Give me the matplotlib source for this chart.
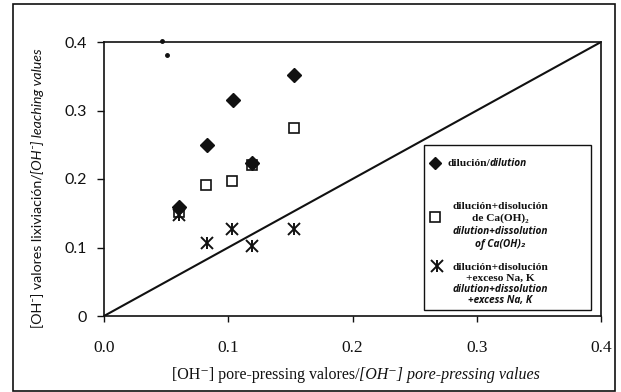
import matplotlib
matplotlib.use("Agg")
import matplotlib.pyplot as plt
from matplotlib.patches import Rectangle
from matplotlib.lines import Line2D
from matplotlib.text import Annotation
from matplotlib.transforms import Bbox

# ---------------- data ----------------
x_ticks = [0.0, 0.1, 0.2, 0.3, 0.4]
x_tick_labels = ["0.0", "0.1", "0.2", "0.3", "0.4"]
y_ticks = [0.0, 0.1, 0.2, 0.3, 0.4]
y_tick_labels = ["0", "0.1", "0.2", "0.3", "0.4"]

# dilución / dilution
x_dil = [0.060, 0.083, 0.104, 0.119, 0.153]
y_dil = [0.159, 0.250, 0.315, 0.224, 0.352]
# dilución + disolución de Ca(OH)2
x_ca = [0.060, 0.082, 0.103, 0.119, 0.153]
y_ca = [0.152, 0.191, 0.197, 0.220, 0.274]
# dilución + disolución + exceso Na, K
x_nak = [0.060, 0.083, 0.103, 0.119, 0.153]
y_nak = [0.147, 0.107, 0.127, 0.102, 0.127]
# 1:1 reference line
x_line = [0.0, 0.4]
y_line = [0.0, 0.4]
# stray scan specks near the top
x_speck = [0.047, 0.051]
y_speck = [0.401, 0.381]

# ---------------- figure ----------------
W, H = 621, 392
fig = plt.figure(figsize=(W / 100, H / 100), dpi=100)
fig.patch.set_facecolor("white")

def fx(px):
    return px / W

def fy(py):
    return 1 - py / H

ax = fig.add_axes([fx(104), fy(316), fx(601) - fx(104), fy(42) - fy(316)])
ax.set_xlim(0, 0.4)
ax.set_ylim(0, 0.4)

ink = "#111111"
ax.plot(x_line, y_line, color=ink, lw=1.5, zorder=2)
ax.plot(x_ca, y_ca, ls="none", marker="s", ms=6.5, mfc="none", mec=ink, mew=1.2, zorder=3)
ax.plot(x_dil, y_dil, ls="none", marker="D", ms=7, mfc=ink, mec=ink, zorder=4)
ax.plot(x_nak, y_nak, ls="none", marker="x", ms=8, mec=ink, mew=1.4, zorder=5)
ax.plot(x_nak, y_nak, ls="none", marker="|", ms=9, mec=ink, mew=1.4, zorder=5)
ax.plot(x_speck, y_speck, ls="none", marker="o", ms=2.5, mfc=ink, mec=ink, clip_on=False, zorder=5)

for s in ax.spines.values():
    s.set_linewidth(1.2)
    s.set_color(ink)

ax.set_xticks(x_ticks)
ax.set_xticklabels(x_tick_labels, family="Liberation Serif", fontsize=12.5)
ax.set_yticks(y_ticks)
ax.set_yticklabels(y_tick_labels, family="Lato", fontsize=11.5)
ax.tick_params(axis="x", direction="out", length=4, width=1, pad=13, colors=ink)
ax.tick_params(axis="y", direction="out", length=5, width=1, pad=7, colors=ink)

# outer frame
fig.add_artist(Rectangle((fx(13), fy(390.5)), fx(615) - fx(13), fy(4) - fy(390.5),
                         transform=fig.transFigure, fill=False, lw=1.2, ec=ink))

# ---------------- rich text helper ----------------
rich_items = []

def rich(segments, cx, cy, align="center", rotation=0):
    texts = []
    for i, (s, kw) in enumerate(segments):
        if i == 0:
            t = fig.text(0.5, 0.5, s, ha="left", va="bottom", rotation=rotation, **kw)
        else:
            xy = (1, 0) if rotation == 0 else (0, 1)
            t = Annotation(s, xy=xy, xycoords=texts[-1], ha="left", va="bottom",
                           rotation=rotation, **kw)
            fig.add_artist(t)
        texts.append(t)
    rich_items.append((texts, cx, cy, align, rotation))

def layout_rich():
    fig.canvas.draw()
    r = fig.canvas.get_renderer()
    for texts, cx, cy, align, rotation in rich_items:
        bb = Bbox.union([t.get_window_extent(r) for t in texts])
        tx = cx
        ty = H - cy
        if rotation == 0:
            dx = (tx - (bb.x0 + bb.x1) / 2) if align == "center" else (tx - bb.x0)
        else:
            dx = tx - (bb.x0 + bb.x1) / 2
        dy = ty - (bb.y0 + bb.y1) / 2
        x0, y0 = texts[0].get_position()
        texts[0].set_position((x0 + dx / W, y0 + dy / H))

SERIF = ["Liberation Serif", "DejaVu Serif"]
SANS = ["Lato", "DejaVu Sans"]
OPEN = ["Open Sans", "DejaVu Sans"]

# axis labels
serif = dict(family=SERIF, fontsize=11.5, color=ink)
serif_it = dict(family=SERIF, fontsize=11.5, style="italic", color=ink)
rich([("[OH\u207b] pore-pressing valores/", serif),
      ("[OH\u207b] pore-pressing values", serif_it)], 356, 375)

sans = dict(family=SANS, fontsize=10.2, color=ink)
sans_it = dict(family=SANS, fontsize=10.2, style="italic", color=ink)
rich([("[OH\u207b] valores lixiviación/", sans),
      ("[OH\u207b] leaching values", sans_it)], 38, 188, rotation=90)

# ---------------- legend ----------------
fig.add_artist(Rectangle((fx(424), fy(310)), fx(591) - fx(424), fy(145) - fy(310),
                         transform=fig.transFigure, fill=True, fc="white", lw=1.0, ec=ink))
fig.add_artist(Line2D([fx(435)], [fy(163)], marker="D", ms=6, mfc=ink, mec=ink,
                      ls="none", transform=fig.transFigure))
fig.add_artist(Line2D([fx(435)], [fy(217)], marker="s", ms=6.5, mfc="none", mec=ink,
                      mew=1.2, ls="none", transform=fig.transFigure))
fig.add_artist(Line2D([fx(437)], [fy(266)], marker="x", ms=8, mec=ink, mew=1.4,
                      ls="none", transform=fig.transFigure))
fig.add_artist(Line2D([fx(437)], [fy(266)], marker="|", ms=9, mec=ink, mew=1.4,
                      ls="none", transform=fig.transFigure))

lb = dict(family=SERIF, fontsize=8.2, weight="bold", color=ink)
li = dict(family=OPEN, fontsize=7.3, weight="bold", style="italic", color=ink)

rich([("dilución/", lb), ("dilution", li)], 447, 163, align="left")

cxl = 500
for txt, yy, st in [("dilución+disolución", 207, lb),
                    ("de Ca(OH)\u2082", 218, lb),
                    ("dilution+dissolution", 231, li),
                    ("of Ca(OH)\u2082", 244, li),
                    ("dilución+disolución", 267, lb),
                    ("+exceso Na, K", 278, lb),
                    ("dilution+dissolution", 290, li),
                    ("+excess Na, K", 301, li)]:
    fig.text(fx(cxl), fy(yy), txt, ha="center", va="center", **st)

layout_rich()
fig.savefig("out.png", dpi=100, facecolor="white")
